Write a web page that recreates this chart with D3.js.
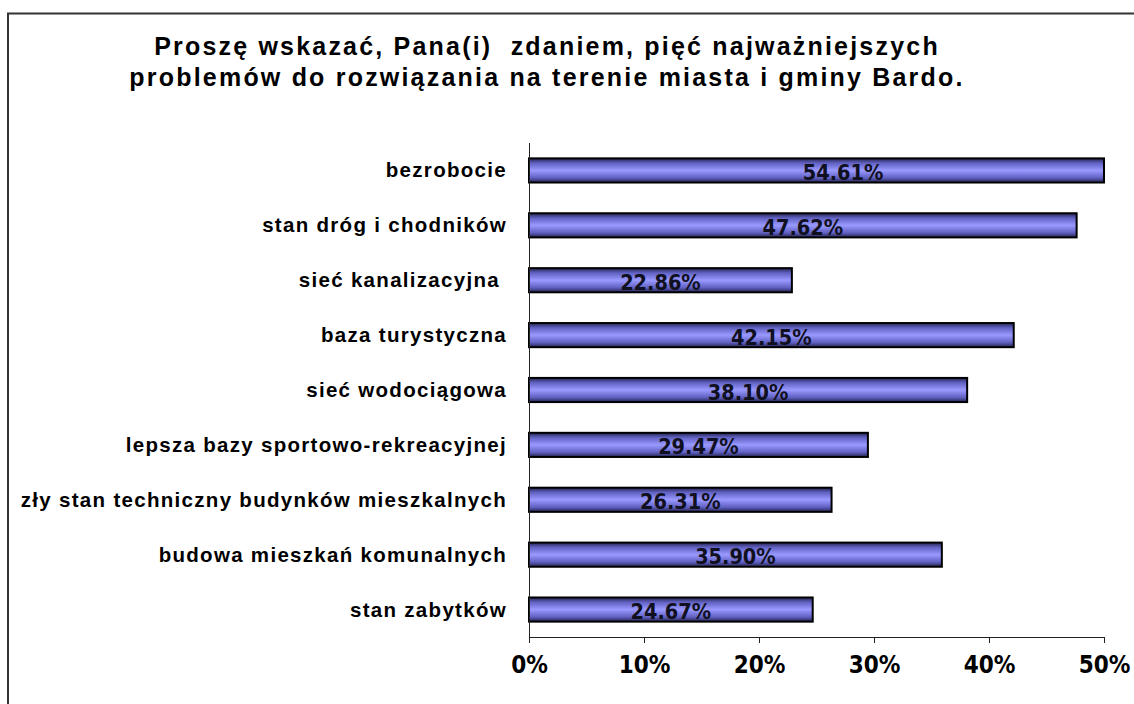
<!DOCTYPE html>
<html>
<head>
<meta charset="utf-8">
<script src="https://cdn.jsdelivr.net/npm/d3@7"></script>
<style>
  html, body { margin: 0; padding: 0; background: #fff; }
  svg { display: block; }
  .title { font-family: "Liberation Sans", Arial, sans-serif; font-weight: bold; font-size: 25px; fill: #000; letter-spacing: 2.2px; white-space: pre; }
  .cat { font-family: "Liberation Sans", Arial, sans-serif; font-weight: bold; font-size: 20.5px; fill: #000; letter-spacing: 1.3px; white-space: pre; }
  .tick text { font-family: "Liberation Sans Narrow", "Arial Narrow", "DejaVu Sans Condensed", sans-serif; font-stretch: condensed; font-weight: bold; font-size: 24px; fill: #000; }
  .val { font-family: "Liberation Sans Narrow", "Arial Narrow", "DejaVu Sans Condensed", sans-serif; font-stretch: condensed; font-weight: bold; font-size: 21.5px; fill: #101020; }
</style>
</head>
<body>
<script>
const titleLines = ["Proszę wskazać, Pana(i)  zdaniem, pięć najważniejszych",
                    "problemów do rozwiązania na terenie miasta i gminy Bardo."];
const categories = ["bezrobocie", "stan dróg i chodników", "sieć kanalizacyjna ", "baza turystyczna",
  "sieć wodociągowa", "lepsza bazy sportowo-rekreacyjnej", "zły stan techniczny budynków mieszkalnych",
  "budowa mieszkań komunalnych", "stan zabytków"];
const values = [54.61, 47.62, 22.86, 42.15, 38.10, 29.47, 26.31, 35.90, 24.67];
const ticks = [0, 10, 20, 30, 40, 50];

const W = 1134, H = 704;
const svg = d3.select("body").append("svg").attr("width", W).attr("height", H);

// frame
svg.append("path").attr("d", `M8,${H + 2} L8,13.5 L${W + 2},13.5`)
  .attr("fill", "none").attr("stroke", "#333").attr("stroke-width", 2);

// title
svg.append("text").attr("class", "title").attr("text-anchor", "middle")
  .selectAll("tspan").data(titleLines).join("tspan")
  .attr("x", 547).attr("y", (d, i) => 55 + i * 31).text(d => d);

const pLeft = 529, pRight = 1104, pTop = 143, pBottom = 637;
const x = d3.scaleLinear().domain([0, 50]).range([pLeft, pRight]);
const xc = x.copy().clamp(true);
const y = d3.scaleBand().domain(categories).range([pTop, pBottom]).paddingInner(0.56).paddingOuter(0.28);

const defs = svg.append("defs");
const grad = defs.append("linearGradient").attr("id", "barGrad")
  .attr("x1", 0).attr("y1", 0).attr("x2", 0).attr("y2", 1);
[[0, "#23234f"], [0.2, "#6262c4"], [0.5, "#9999ff"], [0.8, "#6262c4"], [1, "#23234f"]]
  .forEach(([o, c]) => grad.append("stop").attr("offset", o).attr("stop-color", c));

// bars
svg.append("g").selectAll("rect").data(categories).join("rect")
  .attr("x", x(0)).attr("y", d => y(d))
  .attr("width", (d, i) => xc(values[i]) - x(0))
  .attr("height", y.bandwidth())
  .attr("fill", "url(#barGrad)").attr("stroke", "#000").attr("stroke-width", 2);

// value labels
svg.append("g").selectAll("text").data(categories).join("text")
  .attr("class", "val").attr("text-anchor", "middle")
  .attr("x", (d, i) => (x(0) + x(values[i])) / 2)
  .attr("y", d => y(d) + y.bandwidth() / 2 + 9.5)
  .text((d, i) => values[i].toFixed(2) + "%");

// category labels
svg.append("g").selectAll("text").data(categories).join("text")
  .attr("class", "cat").attr("text-anchor", "end")
  .attr("x", 507).attr("y", d => y(d) + y.bandwidth() / 2 + 7)
  .text(d => d);

// axes
const xAxis = d3.axisBottom(x).tickValues(ticks).tickFormat(d => d + "%").tickSize(6).tickSizeOuter(0);
const gx = svg.append("g").attr("transform", `translate(0,${pBottom})`).call(xAxis);
gx.selectAll(".tick text").attr("dy", null).attr("y", 36);
gx.selectAll("path, line").attr("stroke", "#222");

svg.append("line").attr("x1", pLeft + 0.5).attr("x2", pLeft + 0.5).attr("y1", pTop).attr("y2", pBottom)
  .attr("stroke", "#222");
</script>
</body>
</html>
